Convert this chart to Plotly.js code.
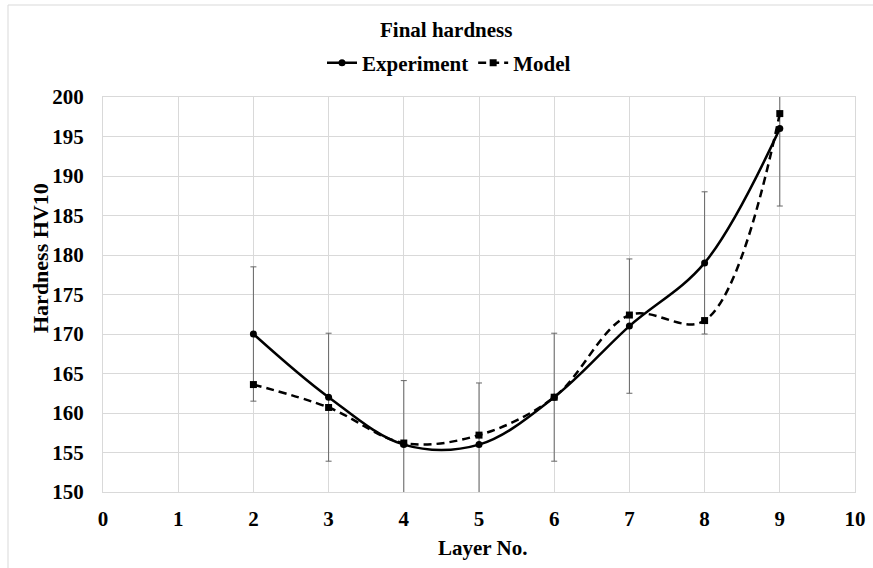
<!DOCTYPE html>
<html>
<head>
<meta charset="utf-8">
<script src="https://cdn.plot.ly/plotly-3.0.1.min.js"></script>
<style>html,body{margin:0;padding:0;background:#fff;}#chart{width:873px;height:568px;}</style>
</head>
<body>
<div id="chart"></div>
<script>
const layers = [2, 3, 4, 5, 6, 7, 8, 9];
const experiment = [170, 162, 156, 156, 162, 171, 179, 196];
const experimentError = [8.5, 8.1, 8.1, 7.8, 8.1, 8.5, 9, 9.8];
const model = [163.6, 160.7, 156.2, 157.2, 162, 172.4, 171.7, 197.9];
const xTicks = [0, 1, 2, 3, 4, 5, 6, 7, 8, 9, 10];
const yTicks = [150, 155, 160, 165, 170, 175, 180, 185, 190, 195, 200];

const FONT = "Liberation Serif, 'Times New Roman', serif";
const L = 103, R = 18, T = 97, B = 76, W = 873, H = 568;
const pw = W - L - R, ph = H - T - B;
const px = v => (v - L) / pw;
const py = v => (H - B - v) / ph;

const traces = [
  {
    x: layers, y: experiment, name: 'Experiment', type: 'scatter', mode: 'lines+markers',
    line: {color: '#000', width: 2.5, shape: 'spline', smoothing: 1},
    marker: {symbol: 'circle', size: 7, color: '#000'},
    error_y: {type: 'data', array: experimentError, visible: true, color: '#666666', thickness: 1, width: 3}
  },
  {
    x: layers, y: model, name: 'Model', type: 'scatter', mode: 'lines+markers',
    line: {color: '#000', width: 2.5, shape: 'spline', smoothing: 1, dash: '8px,5px'},
    marker: {symbol: 'square', size: 7, color: '#000'}
  }
];

const layout = {
  width: W, height: H,
  margin: {l: L, r: R, t: T, b: B},
  paper_bgcolor: '#fff', plot_bgcolor: '#fff',
  font: {family: FONT, color: '#000', weight: 700},
  showlegend: true,
  legend: {orientation: 'h', x: px(449), xanchor: 'center', y: py(63), yanchor: 'middle',
           font: {family: FONT, size: 21, weight: 700}, itemwidth: 30, bgcolor: 'rgba(0,0,0,0)'},
  xaxis: {range: [0, 10], tickvals: xTicks, ticktext: xTicks.map(String), showgrid: true, gridcolor: '#d9d9d9', gridwidth: 1,
          zeroline: false, showline: true, mirror: true, linecolor: '#d9d9d9', linewidth: 1,
          ticks: '', ticklabelstandoff: 8, tickfont: {family: FONT, size: 21, weight: 700}, fixedrange: true},
  yaxis: {range: [150, 200], tickvals: yTicks, ticktext: yTicks.map(String), showgrid: true, gridcolor: '#d9d9d9', gridwidth: 1,
          zeroline: false, showline: true, mirror: true, linecolor: '#d9d9d9', linewidth: 1,
          ticks: '', ticklabelstandoff: 14, tickfont: {family: FONT, size: 21, weight: 700}, fixedrange: true},
  annotations: [
    {text: 'Final hardness', xref: 'paper', yref: 'paper', x: px(446), y: py(30), xanchor: 'center', yanchor: 'middle',
     showarrow: false, font: {family: FONT, size: 21, weight: 700}},
    {text: 'Layer No.', xref: 'paper', yref: 'paper', x: px(482), y: py(548), xanchor: 'center', yanchor: 'middle',
     showarrow: false, font: {family: FONT, size: 21, weight: 700}},
    {text: 'Hardness HV10', xref: 'paper', yref: 'paper', x: px(40), y: py(258), xanchor: 'center', yanchor: 'middle',
     textangle: -90, showarrow: false, font: {family: FONT, size: 22, weight: 700}}
  ],
  shapes: [
    {type: 'rect', xref: 'paper', yref: 'paper', x0: px(8), x1: px(890), y0: py(5), y1: py(590),
     line: {color: '#d9d9d9', width: 1}, fillcolor: 'rgba(0,0,0,0)', layer: 'below'}
  ]
};

Plotly.newPlot('chart', traces, layout, {displayModeBar: false, staticPlot: true});
</script>
</body>
</html>
